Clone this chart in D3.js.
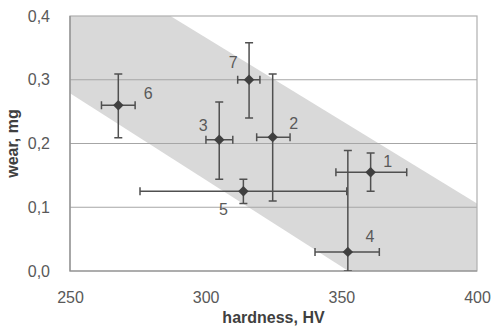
<!DOCTYPE html>
<html>
<head>
<meta charset="utf-8">
<script src="https://cdn.jsdelivr.net/npm/d3@7"></script>
<style>
  body { margin: 0; background: #fff; }
  text { font-family: "Liberation Sans", Arial, sans-serif; }
</style>
</head>
<body>
<div id="chart"></div>
<script>
// sample numbers
var labels = ['1', '2', '3', '4', '5', '6', '7'];
// hardness, HV (point and error bar ends)
var hv    = [360.8, 324.7, 305.0, 352.4, 313.9, 267.8, 316.0];
var hvLo  = [348.0, 318.8, 300.1, 340.3, 275.8, 261.6, 311.8];
var hvHi  = [374.1, 331.1, 310.0, 364.0, 352.0, 274.0, 320.0];
// wear, mg (point and error bar ends)
var wear   = [0.155, 0.210, 0.206, 0.030, 0.125, 0.260, 0.300];
var wearLo = [0.125, 0.110, 0.144, 0.000, 0.106, 0.209, 0.240];
var wearHi = [0.185, 0.309, 0.265, 0.189, 0.144, 0.309, 0.358];
// label offsets in px from the marker
var labDx = [17, 21, -16, 22, -20, 30, -16];
var labDy = [-11, -14, -14, -15, 18, -12, -17];

// shaded band (hardness, wear) outline
var bandHv   = [250, 287, 400, 400, 352.6, 250];
var bandWear = [0.4, 0.4, 0.106, 0, 0, 0.279];

var xTicks = [250, 300, 350, 400];
var yTicks = [0, 0.1, 0.2, 0.3, 0.4];

var W = 493, H = 327;
var m = {left: 70, right: 16, top: 16, bottom: 56};

var svg = d3.select('#chart').append('svg')
    .attr('width', W).attr('height', H);

var x = d3.scaleLinear().domain([250, 400]).range([m.left, W - m.right]);
var y = d3.scaleLinear().domain([0, 0.4]).range([H - m.bottom, m.top]);

var clip = svg.append('clipPath').attr('id', 'clip')
  .append('rect')
    .attr('x', x(250)).attr('y', y(0.4))
    .attr('width', x(400) - x(250)).attr('height', y(0) - y(0.4));

// band
var band = bandHv.map(function(d, i) { return [x(d), y(bandWear[i])]; });
svg.append('path')
    .attr('d', d3.line()(band) + 'Z')
    .attr('fill', '#d9d9d9');

// gridlines
svg.append('g').selectAll('line').data(yTicks.slice(1, 4)).enter().append('line')
    .attr('x1', x(250)).attr('x2', x(400))
    .attr('y1', function(d) { return y(d); })
    .attr('y2', function(d) { return y(d); })
    .attr('stroke', '#a6a6a6').attr('stroke-width', 1.2);

// frame
svg.append('rect')
    .attr('x', x(250)).attr('y', y(0.4))
    .attr('width', x(400) - x(250)).attr('height', y(0) - y(0.4))
    .attr('fill', 'none').attr('stroke', '#b0b0b0').attr('stroke-width', 1.2);
svg.append('path')
    .attr('d', 'M' + x(250) + ',' + y(0.4) + 'V' + y(0) + 'H' + x(400))
    .attr('fill', 'none').attr('stroke', '#8c8c8c').attr('stroke-width', 1.2);

// axes
var xAxis = svg.append('g')
    .attr('transform', 'translate(0,' + (y(0) + 26) + ')')
    .call(d3.axisBottom(x).tickValues(xTicks).tickSize(0).tickPadding(0)
        .tickFormat(d3.format('d')));
var yAxis = svg.append('g')
    .attr('transform', 'translate(' + (x(250) - 20) + ',0)')
    .call(d3.axisLeft(y).tickValues(yTicks).tickSize(0).tickPadding(0)
        .tickFormat(function(d) { return d3.format('.1f')(d).replace('.', ','); }));
[xAxis, yAxis].forEach(function(a) {
  a.select('.domain').remove();
  a.selectAll('text')
      .attr('font-size', 16).attr('fill', '#595959')
      .style('font-family', '"Liberation Sans", Arial, sans-serif');
});
xAxis.selectAll('text').attr('dy', '0.35em');

svg.append('text')
    .attr('x', (x(250) + x(400)) / 2).attr('y', 317)
    .attr('text-anchor', 'middle').attr('dy', '0.35em')
    .attr('font-size', 16).attr('font-weight', 'bold').attr('fill', '#404040')
    .text('hardness, HV');
svg.append('text')
    .attr('transform', 'translate(12,' + ((y(0) + y(0.4)) / 2) + ') rotate(-90)')
    .attr('text-anchor', 'middle').attr('dy', '0.35em')
    .attr('font-size', 16).attr('font-weight', 'bold').attr('fill', '#404040')
    .text('wear, mg');

// error bars
var idx = d3.range(labels.length);
var cap = 4;
var eb = svg.append('g').attr('clip-path', 'url(#clip)')
    .attr('stroke', '#505050').attr('stroke-width', 1.5).attr('fill', 'none');
idx.forEach(function(i) {
  var cx = x(hv[i]), cy = y(wear[i]);
  var p = 'M' + x(hvLo[i]) + ',' + cy + 'H' + x(hvHi[i]);
  p += 'M' + x(hvLo[i]) + ',' + (cy - cap) + 'V' + (cy + cap);
  p += 'M' + x(hvHi[i]) + ',' + (cy - cap) + 'V' + (cy + cap);
  p += 'M' + cx + ',' + y(wearLo[i]) + 'V' + y(wearHi[i]);
  p += 'M' + (cx - cap) + ',' + y(wearLo[i]) + 'H' + (cx + cap);
  p += 'M' + (cx - cap) + ',' + y(wearHi[i]) + 'H' + (cx + cap);
  eb.append('path').attr('d', p);
});

// markers
svg.append('g').selectAll('path').data(idx).enter().append('path')
    .attr('d', d3.symbol().type(d3.symbolDiamond2).size(70))
    .attr('transform', function(i) { return 'translate(' + x(hv[i]) + ',' + y(wear[i]) + ')'; })
    .attr('fill', '#404040');

// point labels
svg.append('g').selectAll('text').data(idx).enter().append('text')
    .attr('x', function(i) { return x(hv[i]) + labDx[i]; })
    .attr('y', function(i) { return y(wear[i]) + labDy[i]; })
    .attr('text-anchor', 'middle').attr('dy', '0.35em')
    .attr('font-size', 16).attr('fill', '#595959')
    .text(function(i) { return labels[i]; });
</script>
</body>
</html>
